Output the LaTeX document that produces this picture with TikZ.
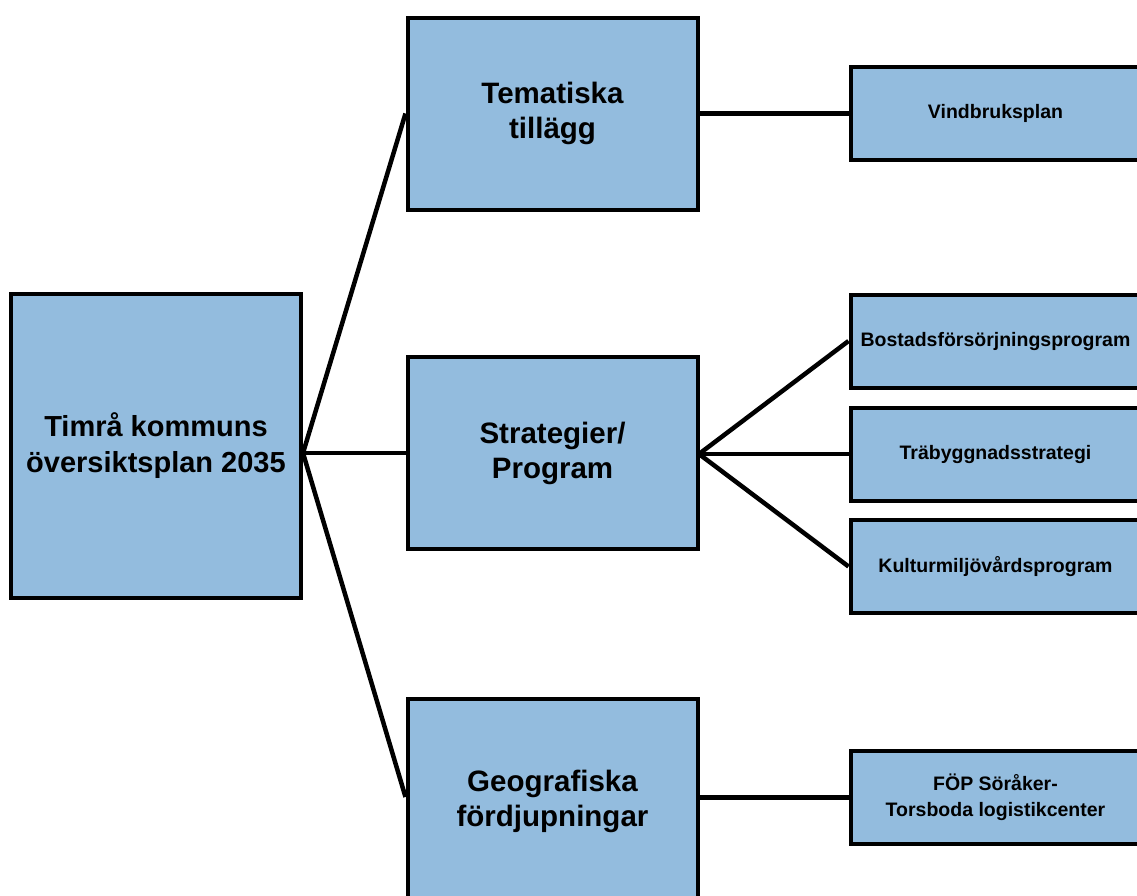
\documentclass[tikz,border=0pt]{standalone}
\usepackage{fontspec}
\setmainfont{Liberation Sans}
\definecolor{boxblue}{RGB}{147,188,222}
\begin{document}
\begin{tikzpicture}[x=1pt,y=-1pt,
  box/.style={draw=black,line width=4pt,fill=boxblue,inner sep=0pt,align=center},
  bigbox/.style={box,minimum width=290pt,minimum height=192pt,font=\bfseries\fontsize{29.5}{35}\selectfont},
  mainbox/.style={box,minimum width=290pt,minimum height=304pt,font=\bfseries\fontsize{29}{36}\selectfont},
  smallbox/.style={box,minimum width=290pt,minimum height=93pt,font=\bfseries\fontsize{19.5}{26}\selectfont},
  conn/.style={line width=4.5pt,draw=black}]
\useasboundingbox (0,0) rectangle (1137,895);
\clip (0,0) rectangle (1137,895);
\fill[white] (0,0) rectangle (1137,895);
\node[mainbox] (main) at (156,446) {Timrå kommuns\\översiktsplan 2035};
\node[bigbox] (tema) at (552.5,113.5) {Tematiska\\tillägg};
\node[bigbox] (strat) at (552.5,453) {Strategier/\\Program};
\node[bigbox,minimum height=204pt] (geo) at (552.5,801) {Geografiska\\fördjupningar};
\node[smallbox] (vind) at (995.5,113.5) {Vindbruksplan};
\node[smallbox] (bost) at (995.5,341) {Bostadsförsörjningsprogram};
\node[smallbox] (tra) at (995.5,454) {Träbyggnadsstrategi};
\node[smallbox] (kult) at (995.5,566.5) {Kulturmiljövårdsprogram};
\node[smallbox] (fop) at (995.5,797.5) {FÖP Söråker-\\Torsboda logistikcenter};
\coordinate (hub) at (303,453);
\coordinate (shub) at (699,454);
\draw[conn] (hub) -- (tema.west);
\draw[conn] (hub) -- (strat.west);
\draw[conn] (hub) -- ([yshift=4pt]geo.west);
\draw[conn] (tema.east) -- (vind.west);
\draw[conn] (geo.east |- fop.west) -- (fop.west);
\draw[conn] (shub) -- (bost.west);
\draw[conn] (shub) -- (tra.west);
\draw[conn] (shub) -- (kult.west);
\end{tikzpicture}
\end{document}
